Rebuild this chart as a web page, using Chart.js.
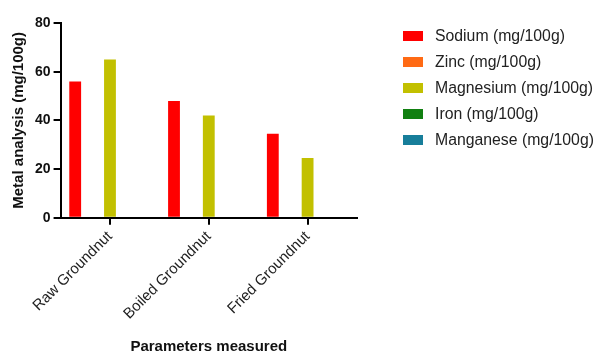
<!DOCTYPE html>
<html>
<head>
<meta charset="utf-8">
<script src="https://cdn.jsdelivr.net/npm/chart.js@4.4.0/dist/chart.umd.min.js"></script>
<style>
  html, body { margin: 0; padding: 0; background: #fff; }
  #wrap { width: 598px; height: 356px; }
</style>
</head>
<body>
<div id="wrap"><canvas id="c" width="598" height="356"></canvas></div>
<script>
// Данные
const categories = ['Raw Groundnut', 'Boiled Groundnut', 'Fried Groundnut'];
const sodium = [56, 48, 34.5];
const zinc = [0, 0, 0];
const magnesium = [65, 42, 24.5];
const iron = [0, 0, 0];
const manganese = [0, 0, 0];
const yTicks = [0, 20, 40, 60, 80];

const seriesNames = ['Sodium (mg/100g)', 'Zinc (mg/100g)', 'Magnesium (mg/100g)', 'Iron (mg/100g)', 'Manganese (mg/100g)'];
const seriesColors = ['#ff0000', '#ff6a14', '#c2c000', '#118011', '#177e9a'];
const seriesValues = [sodium, zinc, magnesium, iron, manganese];

const font = "'Liberation Sans', Arial, sans-serif";

// Легенда справа рисуется вручную (встроенная обрезается по ширине)
const sideLegend = {
    id: 'sideLegend',
    afterDraw(chart) {
        const ctx = chart.ctx;
        ctx.save();
        ctx.font = '15.8px ' + font;
        ctx.textBaseline = 'middle';
        chart.data.datasets.forEach((ds, i) => {
            const y = 36 + i * 26;
            ctx.fillStyle = ds.backgroundColor;
            ctx.fillRect(403, y - 5, 20, 10);
            ctx.fillStyle = '#222';
            ctx.fillText(ds.label, 435, y + 1);
        });
        ctx.restore();
    }
};

const datasets = seriesNames.map((name, i) => ({
    label: name,
    data: seriesValues[i],
    backgroundColor: seriesColors[i],
    borderWidth: 0,
    categoryPercentage: 0.88,
    barPercentage: 0.68
}));

new Chart(document.getElementById('c').getContext('2d'), {
    type: 'bar',
    data: { labels: categories, datasets: datasets },
    plugins: [sideLegend],
    options: {
        responsive: false,
        animation: false,
        layout: { padding: { top: 23, left: 6, right: 241, bottom: 0 } },
        plugins: {
            tooltip: { enabled: false },
            legend: { display: false }
        },
        scales: {
            x: {
                offset: true,
                grid: {
                    display: true,
                    offset: false,
                    drawOnChartArea: false,
                    drawTicks: true,
                    tickLength: 7,
                    color: '#000',
                    lineWidth: 2
                },
                border: { color: '#000', width: 2 },
                ticks: {
                    minRotation: 45,
                    maxRotation: 45,
                    color: '#222',
                    padding: 3,
                    font: { family: font, size: 15 }
                },
                title: {
                    display: true,
                    text: 'Parameters measured',
                    color: '#111',
                    padding: { top: 12, bottom: 0 },
                    font: { family: font, size: 15, weight: 'bold' }
                }
            },
            y: {
                min: 0,
                max: 80,
                afterBuildTicks: axis => { axis.ticks = yTicks.map(v => ({ value: v })); },
                grid: {
                    display: true,
                    drawOnChartArea: false,
                    drawTicks: true,
                    tickLength: 7,
                    color: '#000',
                    lineWidth: 2
                },
                border: { color: '#000', width: 2 },
                ticks: {
                    color: '#111',
                    padding: 3,
                    font: { family: font, size: 14, weight: 'bold' }
                },
                title: {
                    display: true,
                    text: 'Metal analysis (mg/100g)',
                    color: '#111',
                    padding: { bottom: 4 },
                    font: { family: font, size: 15, weight: 'bold' }
                }
            }
        }
    }
});
</script>
</body>
</html>
